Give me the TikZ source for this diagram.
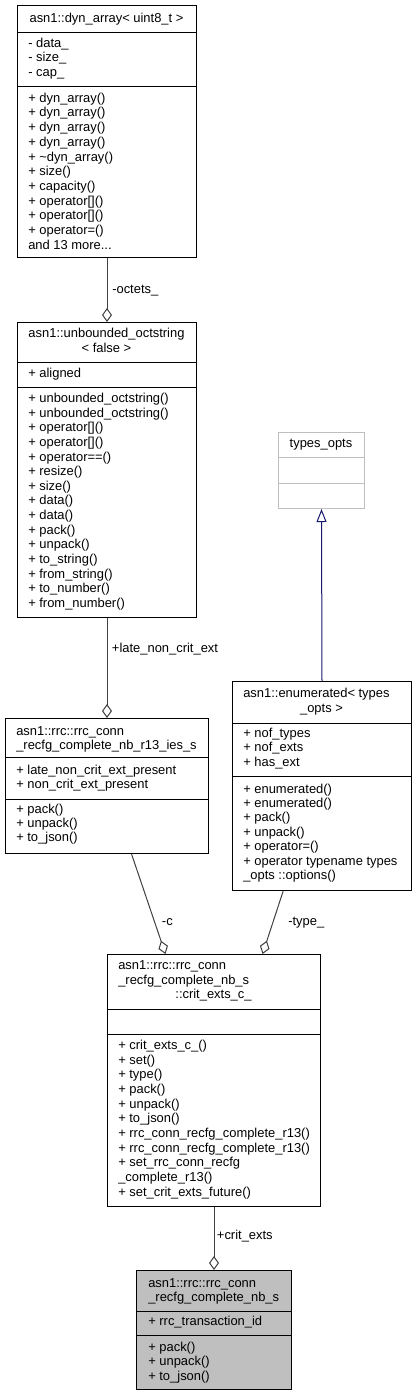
\documentclass[tikz,border=0pt]{standalone}
\usepackage{fontspec}
\setmainfont{Liberation Sans}
\usetikzlibrary{arrows.meta}
\definecolor{edgegray}{HTML}{404040}
\definecolor{lightborder}{HTML}{BFBFBF}
\definecolor{navyline}{HTML}{191970}
\definecolor{boxfill}{HTML}{BFBFBF}
\tikzset{
  txt/.style={inner sep=0pt, font=\fontsize{9.7}{11}\selectfont, text=black},
  umlbox/.style={draw=black, line width=0.75pt, inner sep=0pt, anchor=north west},
  sepline/.style={draw=black, line width=0.75pt},
  agg/.style={draw=edgegray, line width=0.75pt, -{Diamond[open, length=10.5pt, width=7.5pt]}},
  inh/.style={draw=navyline, line width=0.75pt, -{Triangle[open, length=9.75pt, width=7.5pt]}},
  lbl/.style={txt, anchor=base west}
}
% #1 prefix, #2 x, #3 first baseline, #4 step, #5 list
\newcommand\umllines[5]{%
  \foreach \t [count=\i] in {#5} {%
    \node[txt, anchor=base west] (#1-\i) at (#2, {#3+(\i-1)*#4}) {\t};}}
% #1 name, #2 x1, #3 y1, #4 x2, #5 y2, #6 extra style
\newcommand\mkbox[6]{%
  \node[umlbox, #6, minimum width={(#4-#2)*0.75pt}, minimum height={(#5-#3)*0.75pt}] (#1) at (#2,#3) {};}
\newcommand\sep[3]{\draw[sepline, #3] (#1.west |- 0,#2) -- (#1.east |- 0,#2);}
\begin{document}
\begin{tikzpicture}[x=0.75pt, y=-0.75pt]
\useasboundingbox (0,0) rectangle (416,1396);

% dyn_array
\mkbox{b1}{17}{5}{196}{257}{}
\sep{b1}{32}{}\sep{b1}{86}{}
\node[txt, anchor=base] (b1t) at (106.5,22) {asn1::dyn\_array< uint8\_t >};
\umllines{b1a}{28}{47}{14.6}{- data\_, - size\_, - cap\_}
\umllines{b1m}{28}{102.2}{14.7}{+ dyn\_array(), + dyn\_array(), + dyn\_array(), + dyn\_array(), + \textasciitilde dyn\_array(), + size(), + capacity(), + operator[](), + operator[](), + operator=(), and 13 more.{}.{}.}

% unbounded_octstring
\mkbox{b2}{17}{322}{196}{617}{}
\sep{b2}{362}{}\sep{b2}{387}{}
\node[txt, anchor=base] (b2t1) at (106.5,337) {asn1::unbounded\_octstring};
\node[txt, anchor=base] (b2t2) at (106.5,352.5) {< false >};
\umllines{b2a}{28}{377}{14.6}{+ aligned}
\umllines{b2m}{28}{402.5}{14.64}{+ unbounded\_octstring(), + unbounded\_octstring(), + operator[](), + operator[](), + operator==(), + resize(), + size(), + data(), + data(), + pack(), + unpack(), + to\_string(), + from\_string(), + to\_number(), + from\_number()}

% r13 ies
\mkbox{b3}{5}{718}{208}{853}{}
\sep{b3}{757}{}\sep{b3}{799}{}
\umllines{b3t}{16}{735.5}{14}{asn1::rrc::rrc\_conn, \_recfg\_complete\_nb\_r13\_ies\_s}
\umllines{b3a}{16}{774.5}{14}{+ late\_non\_crit\_ext\_present, + non\_crit\_ext\_present}
\umllines{b3m}{16}{813.5}{14}{+ pack(), + unpack(), + to\_json()}

% types_opts
\mkbox{bt}{278}{432}{364}{508}{draw=lightborder}
\sep{bt}{457}{draw=lightborder}\sep{bt}{483}{draw=lightborder}
\node[txt, anchor=base] (btt) at (321,447.5) {types\_opts};

% enumerated
\mkbox{be}{232}{681}{411}{890}{}
\sep{be}{723}{}\sep{be}{776}{}
\node[txt, anchor=base west] (bet1) at (243,697.5) {asn1::enumerated< types};
\node[txt, anchor=base] (bet2) at (321.5,712.5) {\_opts >};
\umllines{bea}{243}{737.5}{14.4}{+ nof\_types, + nof\_exts, + has\_ext}
\umllines{bem}{243}{793}{14.4}{+ enumerated(), + enumerated(), + pack(), + unpack(), + operator=(), + operator typename types, \_opts ::options()}

% crit_exts_c_
\mkbox{bc}{107}{954}{320}{1206}{}
\sep{bc}{1009}{}\sep{bc}{1034}{}
\umllines{bct}{118}{969.5}{14.5}{asn1::rrc::rrc\_conn, \_recfg\_complete\_nb\_s}
\node[txt, anchor=base] (bct3) at (213.5,998) {::crit\_exts\_c\_};
\umllines{bcm}{118}{1049.5}{14.65}{+ crit\_exts\_c\_(), + set(), + type(), + pack(), + unpack(), + to\_json(), + rrc\_conn\_recfg\_complete\_r13(), + rrc\_conn\_recfg\_complete\_r13(), + set\_rrc\_conn\_recfg, \_complete\_r13(), + set\_crit\_exts\_future()}

% bottom (focused) class
\mkbox{bb}{136}{1270}{291}{1389}{fill=boxfill}
\sep{bb}{1311}{}\sep{bb}{1335}{}
\umllines{bbt}{148}{1287}{14}{asn1::rrc::rrc\_conn, \_recfg\_complete\_nb\_s}
\umllines{bba}{148}{1325}{14}{+ rrc\_transaction\_id}
\umllines{bbm}{148}{1351}{14.5}{+ pack(), + unpack(), + to\_json()}

% connectors
\draw[agg] (b1.south) -- (b2.north);
\node[lbl] (l1) at (112,293.5) {-octets\_};
\draw[agg] (b2.south) -- (b3.north);
\node[lbl] (l2) at (111.7,652.5) {+late\_non\_crit\_ext};
\draw[inh] (be.north) -- (bt.south);
\draw[agg] ([xshift=18.4pt]b3.south) -- ([xshift=-36.4pt]bc.north);
\node[lbl] (l3) at (161.7,925) {-c};
\draw[agg] ([xshift=-29.1pt]be.south) -- ([xshift=36.4pt]bc.north);
\node[lbl] (l4) at (288,925) {-type\_};
\draw[agg] (bc.south) -- (bb.north);
\node[lbl] (l5) at (216.7,1239) {+crit\_exts};
\end{tikzpicture}
\end{document}
